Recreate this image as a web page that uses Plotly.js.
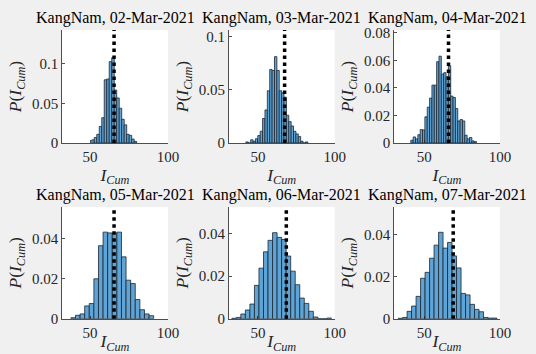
<!DOCTYPE html>
<html>
<head>
<meta charset="utf-8">
<script src="https://cdn.plot.ly/plotly-3.0.1.min.js"></script>
<style>html,body{margin:0;padding:0;background:#f0f0f0;}#chart{width:536px;height:354px;}</style>
</head>
<body>
<div id="chart"></div>
<script>
// ---- data ----
const region = 'KangNam';
const dates = ['02-Mar-2021', '03-Mar-2021', '04-Mar-2021', '05-Mar-2021', '06-Mar-2021', '07-Mar-2021'];

// histogram bins: first left edge and bin width for each day
const binStart = [51.1, 42.2, 41.1, 37.7, 33.0, 32.7];
const binWidth = [1.6, 1.55, 1.55, 2.95, 2.95, 2.97];

// probability of each bin
const prob02 = [0.004, 0.007, 0.011, 0.021, 0.032, 0.080, 0.081, 0.103, 0.108, 0.067, 0.057, 0.044, 0.030, 0.023, 0.011, 0.0097, 0.005, 0.002];
const prob03 = [0.001, 0, 0.003, 0.0016, 0.004, 0.007, 0.011, 0.023, 0.031, 0.049, 0.069, 0.068, 0.081, 0.068, 0.049, 0.047, 0.043, 0.026, 0.020, 0.016, 0.011, 0.0085, 0.006, 0.0016, 0, 0.001];
const prob04 = [0.002, 0.0044, 0.003, 0.006, 0.0097, 0.0095, 0.019, 0.026, 0.0326, 0.042, 0.042, 0.059, 0.063, 0.050, 0.051, 0.048, 0.056, 0.034, 0.033, 0.025, 0.016, 0.017, 0.016, 0.0056, 0.003, 0.004, 0.0015, 0.001];
const prob05 = [0.0005, 0.0017, 0.0024, 0.0064, 0.0076, 0.020, 0.0366, 0.0434, 0.043, 0.043, 0.0434, 0.031, 0.0193, 0.0176, 0.0096, 0.0045, 0.0024, 0.0015];
const prob06 = [0.0002, 0.0006, 0.0022, 0.0041, 0.0069, 0.0157, 0.0238, 0.0315, 0.0369, 0.0405, 0.0383, 0.0373, 0.0295, 0.0224, 0.016, 0.0097, 0.0072, 0.0035, 0.0008, 0, 0, 0.0003];
const prob07 = [0.0002, 0.0006, 0.0035, 0.006, 0.0106, 0.0192, 0.022, 0.0287, 0.0349, 0.041, 0.0335, 0.0362, 0.0298, 0.0241, 0.012, 0.0113, 0.0068, 0.0044, 0.0033, 0.0006, 0.0003, 0.0003];
const probs = [prob02, prob03, prob04, prob05, prob06, prob07];

// observed value (dotted vertical line)
const observed = [65.4, 67.4, 66.0, 65.4, 68.5, 69.1];

// axis limits and ticks
const xMin = [32, 31, 30, 32, 31, 30];
const xMax = 100;
const yMax = [0.143, 0.106, 0.082, 0.056, 0.0526, 0.053];
const yTicks = [[0, 0.05, 0.1], [0, 0.05, 0.1], [0, 0.02, 0.04, 0.06, 0.08], [0, 0.02, 0.04], [0, 0.02, 0.04], [0, 0.02, 0.04]];
const xTicks = [50, 100];

// ---- layout geometry (pixels) ----
const W = 536, H = 354;
const colL = [62, 228.7, 394];
const plotW = 106;
const rowTop = [30, 207];
const rowBot = [143, 318.7];

const font = 'Liberation Serif, Times New Roman, serif';
const axisCol = '#262626';

const traces = [];
const layout = {
  width: W, height: H,
  margin: {l: 0, r: 0, t: 0, b: 0},
  paper_bgcolor: '#f0f0f0',
  plot_bgcolor: '#ffffff',
  showlegend: false,
  bargap: 0,
  font: {family: font, color: axisCol, size: 15},
  annotations: [],
  shapes: []
};

for (let i = 0; i < 6; i++) {
  const n = i + 1;
  const s = n === 1 ? '' : String(n);
  const col = i % 3, row = Math.floor(i / 3);
  const centers = probs[i].map((_, k) => binStart[i] + (k + 0.5) * binWidth[i]);
  traces.push({
    type: 'bar',
    x: centers,
    y: probs[i],
    width: binWidth[i],
    xaxis: 'x' + s,
    yaxis: 'y' + s,
    marker: {color: '#5fa4d6', line: {color: '#1c2630', width: 0.8}},
    hoverinfo: 'skip'
  });
  layout['xaxis' + s] = {
    domain: [colL[col] / W, (colL[col] + plotW) / W],
    anchor: 'y' + s,
    range: [xMin[i], xMax],
    tickmode: 'array', tickvals: xTicks, ticktext: xTicks.map(String),
    ticks: 'inside', ticklen: 3, tickcolor: axisCol, tickwidth: 0.8,
    showline: true, linecolor: axisCol, linewidth: 0.8,
    showgrid: false, zeroline: false,
    tickfont: {family: font, size: 15, color: axisCol},
    title: {text: '<i>I</i><sub><i>Cum</i></sub>', font: {family: font, size: 17.5, color: axisCol}, standoff: 4}
  };
  layout['yaxis' + s] = {
    domain: [1 - rowBot[row] / H, 1 - rowTop[row] / H],
    anchor: 'x' + s,
    range: [0, yMax[i]],
    tickmode: 'array', tickvals: yTicks[i], ticktext: yTicks[i].map(String),
    ticks: 'inside', ticklen: 3, tickcolor: axisCol, tickwidth: 0.8,
    showline: true, linecolor: axisCol, linewidth: 0.8,
    showgrid: false, zeroline: false,
    tickfont: {family: font, size: 15, color: axisCol},
    title: {text: '<i>P</i>(<i>I</i><sub><i>Cum</i></sub>)', font: {family: font, size: 17.5, color: axisCol}, standoff: 5}
  };
  layout.annotations.push({
    xref: 'x' + s + ' domain', yref: 'y' + s + ' domain',
    x: 0.5, y: 1, xanchor: 'center', yanchor: 'bottom', yshift: 1,
    text: region + ', ' + dates[i], showarrow: false,
    font: {family: font, size: 16, color: '#000000'}
  });
  layout.shapes.push({
    type: 'line', xref: 'x' + s, yref: 'y' + s + ' domain',
    x0: observed[i], x1: observed[i], y0: 0, y1: 1,
    line: {color: '#000000', width: 3.5, dash: 'dot'}
  });
}

Plotly.newPlot('chart', traces, layout, {staticPlot: true, displayModeBar: false});
</script>
</body>
</html>
